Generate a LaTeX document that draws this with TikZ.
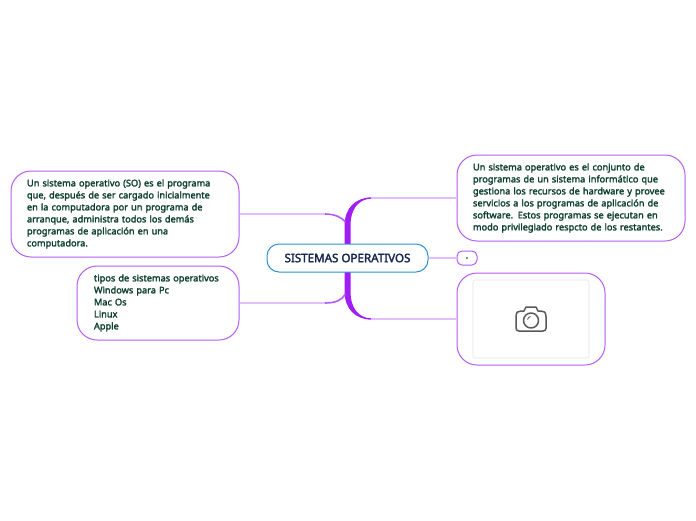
\documentclass[tikz,border=0pt]{standalone}
\usepackage{fontspec}
\setmainfont{Noto Sans}
\definecolor{moradoFuerte}{HTML}{A01EF5}
\definecolor{moradoMedio}{HTML}{B45CF5}
\definecolor{moradoClaro}{HTML}{E2BEFF}
\definecolor{verdeTexto}{HTML}{0E3F30}
\definecolor{azulBorde}{HTML}{2F8FD2}
\definecolor{azulTexto}{HTML}{14254F}
\newfontfamily\negrita{Noto Sans}[FakeBold=2.2]
\begin{document}
\begin{tikzpicture}[
    x=1pt, y=-1pt,
    % --- NODOS ---
    centro/.style={rounded corners=12pt, draw=azulBorde, fill=white, line width=1pt, minimum width=161pt, minimum height=28pt, inner sep=0pt, text=azulTexto, font=\negrita\fontsize{11.6}{12}\selectfont},
    caja/.style={rounded corners=20pt, draw=moradoMedio, fill=white, line width=1pt, inner sep=0pt, text=verdeTexto, font=\negrita\fontsize{9.2}{12}\selectfont, align=left},
    % --- RAMAS ---
    tronco/.style={fill=moradoFuerte},
    curva/.style={draw=moradoMedio, line width=1.6pt},
    rama/.style={draw=moradoClaro, line width=1.5pt}
]
    \useasboundingbox (0,0) rectangle (696,520);

    % --- PUNTOS DE LAS RAMAS ---
    \coordinate (arriba) at (345.5,222);
    \coordinate (abajo) at (345.5,294);

    % --- TRONCO ---
    \fill[tronco] (344.5,258) -- (344.5,225) .. controls (345,208) and (355,198) .. (371,197.3) -- (371,198.7) .. controls (358,199) and (350.5,210) .. (350.5,225) -- (350.5,258) -- cycle;
    \fill[tronco] (344.5,258) -- (344.5,292) .. controls (345,309) and (355,319) .. (371,319.7) -- (371,318.3) .. controls (358,318) and (350.5,307) .. (350.5,292) -- (350.5,258) -- cycle;

    % --- DEFINICION DE LAS CAJAS ---
    \node[centro] (so) at (347.5,258) {SISTEMAS OPERATIVOS};

    \node[caja, minimum width=228pt, minimum height=86pt, text width=196pt] (definicion) at (125,214) {Un sistema operativo (SO) es el programa\\que, después de ser cargado inicialmente\\en la computadora por un programa de\\arranque, administra todos los demás\\programas de aplicación en una\\computadora.};
    \node[caja, minimum width=162pt, minimum height=74pt, text width=128pt] (tipos) at (158,303) {tipos de sistemas operativos\\Windows para Pc\\Mac Os\\Linux\\Apple};
    \node[caja, minimum width=228pt, minimum height=86pt, text width=196pt] (conjunto) at (571,198) {Un sistema operativo es el conjunto de\\programas de un sistema informático que\\gestiona los recursos de hardware y provee\\servicios a los programas de aplicación de\\software. Estos programas se ejecutan en\\modo privilegiado respcto de los restantes.};
    \node[caja, rounded corners=5pt, minimum width=20pt, minimum height=14pt] (punto) at (467,258) {.};
    \node[caja, minimum width=148pt, minimum height=92pt] (imagen) at (531,319) {};
    \node[draw=black!10, fill=white, rounded corners=2pt, line width=0.6pt, minimum width=116pt, minimum height=78pt] (marco) at (imagen) {};

    % --- RAMAS ---
    \draw[rama] (definicion.east) -- (325,214);
    \draw[rama] (tipos.east) -- (325,303);
    \draw[rama] (conjunto.west) -- (371,198);
    \draw[rama] (imagen.west) -- (371,319);
    \draw[rama] (so.east) -- (punto.west);

    \draw[curva] (325,214) .. controls (336,214) and (342,218) .. (arriba);
    \draw[curva] (325,303) .. controls (336,303) and (342,300) .. (abajo);

    % --- ICONO DE LA CAMARA ---
    \begin{scope}[shift={(marco.center)}, draw=black!65, line width=1.5pt, line join=round]
        \draw (-15,-2) .. controls (-15,-7) and (-13,-8) .. (-10,-8) -- (-7,-8) -- (-5,-12) -- (5,-12) -- (7,-8) -- (10,-8) .. controls (13,-8) and (15,-7) .. (15,-2) -- (15,9) .. controls (15,11) and (14,12) .. (12,12) -- (-12,12) .. controls (-14,12) and (-15,11) .. (-15,9) -- cycle;
        \draw (0,1.5) circle (7.5);
        \draw[line width=0.8pt] (-3.5,0.5) .. controls (-3,-1) and (-2,-2) .. (-0.5,-2.5);
    \end{scope}
\end{tikzpicture}
\end{document}
